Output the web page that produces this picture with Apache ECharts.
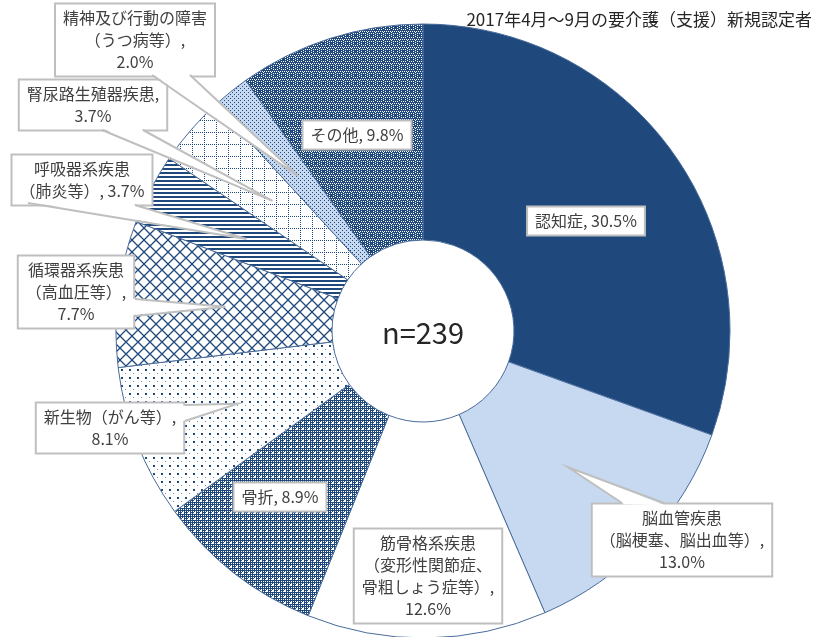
<!DOCTYPE html>
<html>
<head>
<meta charset="utf-8">
<script src="https://cdn.jsdelivr.net/npm/echarts@6/dist/echarts.min.js"></script>
<style>
  html, body { margin: 0; padding: 0; background: #fff; }
  #chart { width: 817px; height: 637px; }
</style>
</head>
<body>
<div id="chart"></div>
<script>
// 疾患名（ラベル用の改行入り）
const categories = [
  '認知症',
  '脳血管疾患\n（脳梗塞、脳出血等）',
  '筋骨格系疾患\n（変形性関節症、\n骨粗しょう症等）',
  '骨折',
  '新生物（がん等）',
  '循環器系疾患\n（高血圧等）',
  '呼吸器系疾患\n（肺炎等）',
  '腎尿路生殖器疾患',
  '精神及び行動の障害\n（うつ病等）',
  'その他'
];
// 構成比（%）
const shares = [30.5, 13.0, 12.6, 8.9, 8.1, 7.7, 3.7, 3.7, 2.0, 9.8];
// 値を次の行に出すかどうか
const valueOnNewLine = [false, true, true, false, true, true, false, true, true, false];
const sampleSize = 239;
const chartTitle = '2017年4月～9月の要介護（支援）新規認定者';

// レイアウト
const CENTER = [423, 331];
const RADIUS = [91, 307];
const FONT = "'Noto Sans CJK JP', sans-serif";
// ラベル枠の中心
const labelPos = [
  [586, 221], [682, 540], [428, 576], [280, 497], [110, 428],
  [76, 292], [82, 180], [93, 105], [135, 40], [357, 135]
];
// 吹き出しの付け根（null は吹き出しなし）
const calloutBase = [
  null,
  [[622, 503], [664, 503]],
  null,
  null,
  [[185, 405], [185, 421]],
  [[135, 299], [135, 316]],
  [[28, 203], [135, 205]],
  [[102, 130], [143, 130]],
  [[152, 75], [190, 75]],
  null
];

const NAVY = '#1F497D';
const LIGHT = '#C6D9F1';

// 模様（ハッチング）を canvas で作る
function tile(w, h, bg, paint) {
  const c = document.createElement('canvas');
  c.width = w; c.height = h;
  const g = c.getContext('2d');
  g.fillStyle = bg;
  g.fillRect(0, 0, w, h);
  g.fillStyle = NAVY;
  g.strokeStyle = NAVY;
  paint(g);
  return { image: c, repeat: 'repeat' };
}

const fills = [
  NAVY,
  LIGHT,
  '#FFFFFF',
  // 骨折
  tile(6, 6, NAVY, g => {
    g.fillStyle = '#fff';
    for (let y = 1; y < 6; y += 2) {
      for (let x = 1; x < 6; x += 2) g.fillRect(x, y, 1, 1);
    }
    g.fillRect(2, 2, 2, 2);
  }),
  // 新生物
  tile(8, 8, '#fff', g => {
    g.fillRect(1, 1, 2, 2);
    g.fillStyle = '#6F8AB3';
    g.fillRect(5, 5, 1, 1);
  }),
  // 循環器系
  tile(12, 12, '#fff', g => {
    g.lineWidth = 1.3;
    g.beginPath();
    g.moveTo(0, 0); g.lineTo(12, 12);
    g.moveTo(12, 0); g.lineTo(0, 12);
    g.stroke();
  }),
  // 呼吸器系
  tile(4, 4, '#fff', g => {
    g.fillRect(0, 0, 4, 2);
  }),
  // 腎尿路生殖器
  tile(12, 12, '#fff', g => {
    for (let i = 0; i < 12; i += 2) {
      g.fillRect(i, 0, 1, 1);
      g.fillRect(0, i, 1, 1);
    }
  }),
  // 精神及び行動の障害
  tile(4, 4, LIGHT, g => {
    g.fillRect(0, 0, 1, 1);
    g.fillRect(2, 2, 1, 1);
  }),
  // その他
  tile(8, 8, NAVY, g => {
    g.fillStyle = '#fff';
    [[1, 1], [3, 1], [5, 1], [1, 3], [5, 3], [1, 5], [3, 5], [5, 5],
     [0, 7], [2, 7], [4, 7], [6, 7], [7, 0], [7, 2], [7, 4]].forEach(p => g.fillRect(p[0], p[1], 1, 1));
  })
];

// 吹き出しの先端（ラベル配置時に扇形の中央角から求める）
const tips = [];

const chart = echarts.init(document.getElementById('chart'));
chart.setOption({
  animation: false,
  backgroundColor: '#fff',
  title: {
    text: chartTitle,
    right: 0,
    top: 6,
    textStyle: { fontFamily: FONT, fontSize: 17, fontWeight: 'normal', color: '#262626' }
  },
  series: [{
    type: 'pie',
    center: CENTER,
    radius: RADIUS,
    startAngle: 90,
    clockwise: true,
    avoidLabelOverlap: false,
    silent: true,
    itemStyle: { borderColor: '#4A6C9B', borderWidth: 1 },
    label: {
      show: true,
      position: 'outside',
      formatter: p => p.name + ',' + (valueOnNewLine[p.dataIndex] ? '\n' : ' ') + p.value.toFixed(1) + '%',
      fontFamily: FONT,
      fontSize: 16,
      lineHeight: 22,
      color: '#404040',
      align: 'center',
      backgroundColor: '#fff',
      borderColor: '#BFBFBF',
      borderWidth: 2,
      padding: [3, 7, 2, 7]
    },
    labelLine: {
      show: true,
      length: 10,
      length2: 10,
      lineStyle: { color: '#BFBFBF', width: 0, opacity: 0 }
    },
    labelLayout: function (p) {
      const i = p.dataIndex;
      const pts = p.labelLinePoints;
      if (calloutBase[i] && pts && pts.length) {
        // リングの中央、扇形の中央角の位置
        const a = Math.atan2(pts[0][1] - CENTER[1], pts[0][0] - CENTER[0]);
        const rm = (RADIUS[0] + RADIUS[1]) / 2;
        tips[i] = [CENTER[0] + rm * Math.cos(a), CENTER[1] + rm * Math.sin(a)];
      }
      return { x: labelPos[i][0], y: labelPos[i][1], align: 'center', verticalAlign: 'middle' };
    },
    data: categories.map((name, i) => ({
      name: name,
      value: shares[i],
      itemStyle: { color: fills[i] }
    }))
  }]
});

// 吹き出しと中央の n 表示
const graphics = [{
  type: 'text',
  x: CENTER[0],
  y: CENTER[1] + 2,
  z: 50,
  style: {
    text: 'n=' + sampleSize,
    fontFamily: FONT,
    fontSize: 29,
    fill: '#262626',
    align: 'center',
    verticalAlign: 'middle'
  }
}];
calloutBase.forEach((base, i) => {
  if (!base || !tips[i]) return;
  const c = labelPos[i];
  const inward = p => {
    const dx = c[0] - p[0], dy = c[1] - p[1];
    const d = Math.sqrt(dx * dx + dy * dy) || 1;
    return [p[0] + dx / d * 2.5, p[1] + dy / d * 2.5];
  };
  graphics.push({
    type: 'polygon',
    z: 50,
    silent: true,
    shape: { points: [inward(base[0]), tips[i], inward(base[1])] },
    style: { fill: '#fff', stroke: null }
  });
  graphics.push({
    type: 'polyline',
    z: 51,
    silent: true,
    shape: { points: [base[0], tips[i], base[1]] },
    style: { fill: null, stroke: '#BFBFBF', lineWidth: 2 }
  });
});
chart.setOption({ graphic: graphics });
</script>
</body>
</html>
